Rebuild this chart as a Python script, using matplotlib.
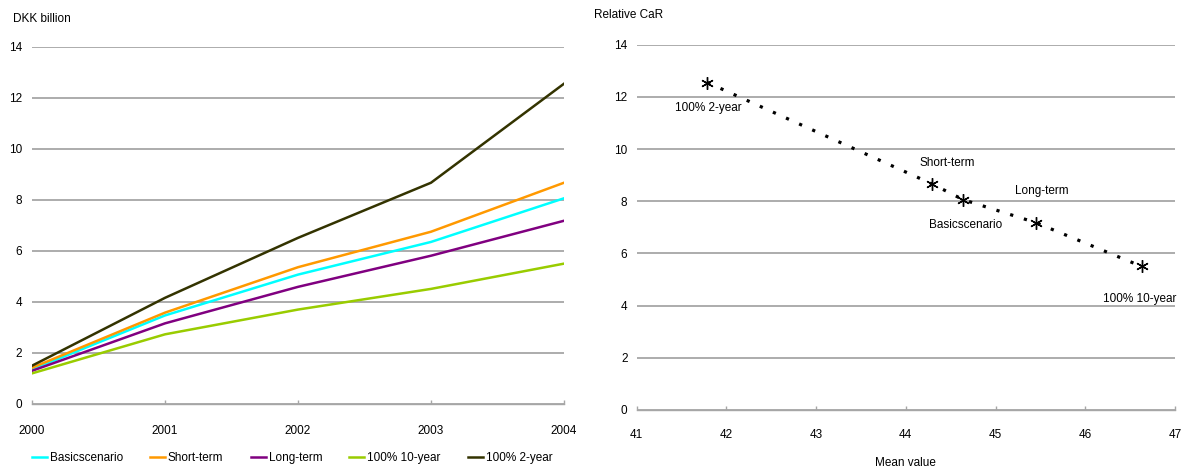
import matplotlib
matplotlib.use("Agg")
import matplotlib.pyplot as plt

plt.rcParams["font.family"] = ["Liberation Sans", "DejaVu Sans"]
plt.rcParams["font.size"] = 8.5

# ---- data ----
years = [2000, 2001, 2002, 2003, 2004]
basic = [1.35, 3.47, 5.07, 6.35, 8.06]
short_term = [1.42, 3.58, 5.36, 6.75, 8.67]
long_term = [1.30, 3.16, 4.59, 5.81, 7.18]
ten_year = [1.20, 2.73, 3.70, 4.51, 5.50]
two_year = [1.50, 4.16, 6.51, 8.67, 12.55]

series_names = ["Basicscenario", "Short-term", "Long-term", "100% 10-year", "100% 2-year"]
series_colors = ["#00FFFF", "#FF9900", "#800080", "#99CC00", "#333300"]

# mean value vs relative CaR per strategy
scatter_names = ["100% 2-year", "Short-term", "Basicscenario", "Long-term", "100% 10-year"]
mean_value = [41.79, 44.29, 44.64, 45.45, 46.63]
rel_car = [12.55, 8.67, 8.06, 7.18, 5.50]

GRID = "#A6A6A6"
W, H = 1184, 470

fig = plt.figure(figsize=(W / 100, H / 100), dpi=100)


def style_axes(ax, ypad, xpad):
    ax.set_ylim(0, 14)
    ax.set_yticks(range(0, 15, 2))
    ax.grid(axis="y", color=GRID, lw=1.3)
    ax.set_axisbelow(True)
    for s in ["top", "right", "left"]:
        ax.spines[s].set_visible(False)
    ax.spines["bottom"].set_color(GRID)
    ax.spines["bottom"].set_linewidth(1.0)
    ax.tick_params(axis="y", length=0, pad=ypad)
    ax.tick_params(axis="x", length=3, width=1.0, color=GRID, direction="in", pad=xpad)


# ---- left panel: CaR over time ----
ax1 = fig.add_axes([32 / W, 1 - 404 / H, 532 / W, 357.3 / H])
for vals, name, col in zip([basic, short_term, long_term, ten_year, two_year],
                           series_names, series_colors):
    ax1.plot(years, vals, color=col, lw=1.8, label=name)
ax1.set_xlim(2000, 2004)
ax1.set_xticks(years)
style_axes(ax1, ypad=7, xpad=15)
fig.text(13 / W, 1 - 19 / H, "DKK billion", ha="left", va="center")

handles, labels = ax1.get_legend_handles_labels()
fig.legend(handles, labels, ncol=5, loc="center left",
           bbox_to_anchor=(21 / W, 1 - 458 / H), frameon=False,
           handlelength=1.27, handletextpad=0.25, columnspacing=2.3)

# ---- right panel: mean value vs relative CaR ----
ax2 = fig.add_axes([636.5 / W, 1 - 410 / H, 538.5 / W, 365.3 / H])
order = sorted(range(len(mean_value)), key=lambda i: mean_value[i])
ax2.plot([mean_value[i] for i in order], [rel_car[i] for i in order],
         color="black", lw=2.3, linestyle=(0, (1, 3.5)), zorder=2)
ax2.plot(mean_value, rel_car, linestyle="none", marker=(6, 2, 0),
         markersize=9, markeredgewidth=1.0, color="black", zorder=3)
ax2.set_xlim(41, 47)
ax2.set_xticks(range(41, 48))
style_axes(ax2, ypad=6.5, xpad=14)
ax2.set_xlabel("Mean value", labelpad=11)
fig.text(594 / W, 1 - 15 / H, "Relative CaR", ha="left", va="center")

# point labels, offsets in points
label_offsets = {
    "100% 2-year": (1, -18),
    "Short-term": (11, 15),
    "Basicscenario": (1.5, -18.5),
    "Long-term": (4.5, 23),
    "100% 10-year": (-1.5, -23.5),
}
for name, x, y in zip(scatter_names, mean_value, rel_car):
    dx, dy = label_offsets[name]
    ax2.annotate(name, (x, y), xytext=(dx, dy), textcoords="offset points",
                 ha="center", va="center")

fig.savefig("out.png", dpi=100, facecolor="white")
